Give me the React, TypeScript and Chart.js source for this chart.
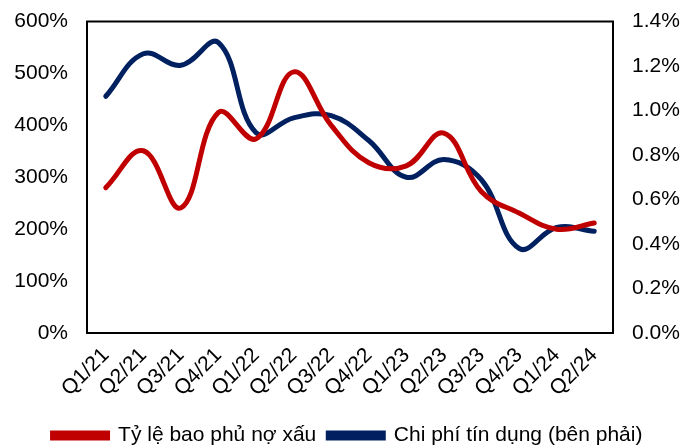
import React, { useEffect, useRef } from "react";
import { Chart, registerables } from "chart.js";

Chart.register(...registerables);

const categories = ["Q1/21", "Q2/21", "Q3/21", "Q4/21", "Q1/22", "Q2/22", "Q3/22", "Q4/22", "Q1/23", "Q2/23", "Q3/23", "Q4/23", "Q1/24", "Q2/24"];
const coverageRatio = [280, 351, 241, 425, 374, 503, 400, 328, 322, 385, 272, 231, 200, 212];
const creditCost = [1.064, 1.255, 1.203, 1.305, 0.9, 0.967, 0.977, 0.865, 0.7, 0.78, 0.688, 0.38, 0.474, 0.457];
const seriesNames = ["Tỷ lệ bao phủ nợ xấu", "Chi phí tín dụng (bên phải)"];

const RED = "#C00000";
const NAVY = "#002060";
const FONT = "'Liberation Sans', Arial, sans-serif";
const FS = 21;

const frame = {
  id: "frame",
  afterDatasetsDraw(chart: any) {
    const { ctx, chartArea } = chart;
    ctx.save();
    ctx.strokeStyle = "#000";
    ctx.lineWidth = 2;
    ctx.strokeRect(chartArea.left, chartArea.top, chartArea.right - chartArea.left, chartArea.bottom - chartArea.top);
    ctx.restore();
  },
};

export default function App() {
  const ref = useRef<HTMLCanvasElement>(null);
  useEffect(() => {
    document.body.style.margin = "0";
    const chart = new Chart(ref.current!, {
      type: "line",
      data: {
        labels: categories,
        datasets: [
          {
            label: seriesNames[0],
            data: coverageRatio,
            borderColor: RED,
            backgroundColor: RED,
            borderWidth: 5,
            pointRadius: 0,
            tension: 0.4,
            yAxisID: "y",
            borderCapStyle: "round",
          },
          {
            label: seriesNames[1],
            data: creditCost,
            borderColor: NAVY,
            backgroundColor: NAVY,
            borderWidth: 5,
            pointRadius: 0,
            tension: 0.4,
            yAxisID: "y1",
            borderCapStyle: "round",
          },
        ],
      },
      options: {
        animation: false,
        responsive: false,
        maintainAspectRatio: false,
        layout: { padding: { top: 9, left: 0, right: 0, bottom: -8 } },
        plugins: {
          tooltip: { enabled: false },
          legend: {
            position: "bottom",
            labels: {
              boxWidth: 55,
              boxHeight: 5,
              padding: 12,
              color: "#000",
              font: { family: FONT, size: FS },
              sort: (a: any, b: any) => a.datasetIndex - b.datasetIndex,
            },
          },
        },
        scales: {
          x: {
            offset: true,
            grid: { display: false },
            border: { display: false },
            ticks: {
              autoSkip: false,
              minRotation: 45,
              maxRotation: 45,
              padding: 2,
              color: "#000",
              font: { family: FONT, size: FS },
            },
            afterFit(scale: any) {
              scale.height = 80;
            },
          },
          y: {
            position: "left",
            min: 0,
            max: 600,
            grid: { display: false },
            border: { display: false },
            ticks: {
              stepSize: 100,
              padding: 11,
              color: "#000",
              font: { family: FONT, size: FS, lineHeight: 1 },
              callback: (v: any) => v + "%",
            },
            afterFit(scale: any) {
              scale.width = 87;
            },
          },
          y1: {
            position: "right",
            min: 0,
            max: 1.4,
            grid: { display: false },
            border: { display: false },
            ticks: {
              stepSize: 0.2,
              padding: 11,
              color: "#000",
              font: { family: FONT, size: FS, lineHeight: 1 },
              callback: (v: any) => Number(v).toFixed(1) + "%",
            },
            afterFit(scale: any) {
              scale.width = 82;
            },
          },
        },
      },
      plugins: [frame],
    });
    return () => chart.destroy();
  }, []);
  return (
    <div style={{ position: "absolute", left: 0, top: 0, width: 695, height: 448 }}>
      <canvas ref={ref} width={695} height={448} style={{ width: 695, height: 448 }} />
    </div>
  );
}
